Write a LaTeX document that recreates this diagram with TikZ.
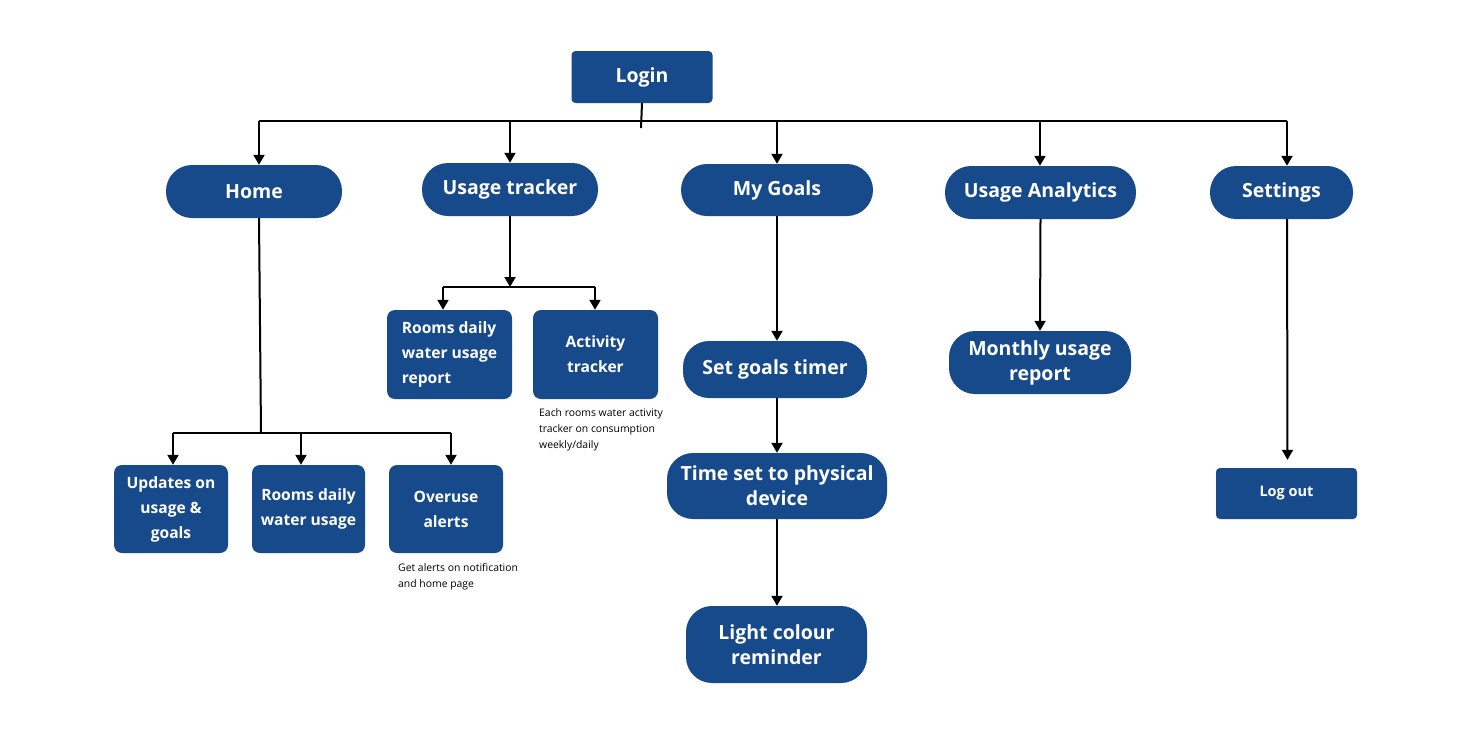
\documentclass[tikz,border=0pt]{standalone}
\usepackage{fontspec}
\setmainfont{Open Sans}
\usetikzlibrary{positioning}
\usetikzlibrary{arrows.meta}
\definecolor{navy}{HTML}{174A8B}

\begin{document}
\begin{tikzpicture}[x=1pt, y=-1pt,
        page/.style={fill=navy, text=white, align=center, inner sep=0pt,
            font=\bfseries\fontsize{19.5}{25}\selectfont},
        box/.style={page, rounded corners=4pt},
        pill/.style={page, rounded corners=26pt},
        card/.style={page, rounded corners=8pt, font=\bfseries\fontsize{15.6}{25}\selectfont},
        note/.style={anchor=north west, align=left, inner sep=0pt,
            font=\fontsize{10.4}{16}\selectfont},
        wire/.style={line width=2pt},
        link/.style={wire, -{Triangle[length=10pt, width=11pt]}}
    ]
        \useasboundingbox (0,0) rectangle (1471,734);

        % Top level
        \node[box, minimum width=141pt, minimum height=52pt] (login) at (642,77) {Login};

        \node[pill, minimum width=176pt, minimum height=53pt] (home) at (254,191.5) {Home};
        \node[pill, minimum width=176pt, minimum height=53pt] (usage) at (510,189.5) {Usage tracker};
        \node[pill, minimum width=192pt, minimum height=52pt] (goals) at (777,190) {My Goals};
        \node[pill, minimum width=191pt, minimum height=53pt] (analytics) at (1040.5,192.5) {Usage Analytics};
        \node[pill, minimum width=143pt, minimum height=53pt] (settings) at (1281.5,192.5) {Settings};

        % Bus under the login page
        \coordinate (jlogin) at (641,128);
        \coordinate (jhome) at (259,121);
        \coordinate (jusage) at (510,121);
        \coordinate (jgoals) at (777,121);
        \coordinate (janalytics) at (1040,121);
        \coordinate (jsettings) at (1287,121);

        \draw[wire] (login.south) -- (jlogin);
        \draw[wire] (jhome) -- (jsettings);
        \draw[link] (jhome) -- (jhome |- home.north);
        \draw[link] (jusage) -- (jusage |- usage.north);
        \draw[link] (jgoals) -- (jgoals |- goals.north);
        \draw[link] (janalytics) -- (janalytics |- analytics.north);
        \draw[link] (jsettings) -- (jsettings |- settings.north);

        % Home branch
        \node[card, minimum width=114pt, minimum height=88pt] (updates) at (171,509) {Updates on\\usage \&\\goals};
        \node[card, minimum width=113pt, minimum height=88pt] (roomsday) at (308.5,509) {Rooms daily\\water usage};
        \node[card, minimum width=114pt, minimum height=88pt] (overuse) at (446,509) {Overuse\\alerts};
        \node[note] (overnote) at (398,563) {Get alerts on notification\\and home page};

        \coordinate (jhomedown) at (261,433);
        \coordinate (jupdates) at (173,433);
        \coordinate (jroomsday) at (301,433);
        \coordinate (joveruse) at (451,433);
        \draw[wire] ([xshift=5pt]home.south) -- (jhomedown);
        \draw[wire] (jupdates) -- (joveruse);
        \draw[link] (jupdates) -- (jupdates |- updates.north);
        \draw[link] (jroomsday) -- (jroomsday |- roomsday.north);
        \draw[link] (joveruse) -- (joveruse |- overuse.north);

        % Usage tracker branch
        \node[card, minimum width=125pt, minimum height=89pt, align=left] (report) at (449.5,354.5) {Rooms daily\\water usage\\report};
        \node[card, minimum width=125pt, minimum height=89pt] (activity) at (595.5,354.5) {Activity\\tracker};
        \node[note] (actnote) at (539,408) {Each rooms water activity\\tracker on consumption\\weekly/daily};

        \coordinate (jusagedown) at (510,287);
        \coordinate (jreport) at (443,287);
        \coordinate (jactivity) at (595,287);
        \draw[link] (usage.south) -- (jusagedown);
        \draw[wire] (jreport) -- (jactivity);
        \draw[link] (jreport) -- (jreport |- report.north);
        \draw[link] (jactivity) -- (jactivity |- activity.north);

        % My Goals branch
        \node[pill, minimum width=184pt, minimum height=57pt] (timer) at (775,369.5) {Set goals timer};
        \node[pill, minimum width=220pt, minimum height=66pt] (device) at (777,486) {Time set to physical\\device};
        \node[pill, minimum width=181pt, minimum height=77pt] (light) at (776.5,644.5) {Light colour\\reminder};

        \draw[link] (goals.south) -- (goals.south |- timer.north);
        \draw[link] ([xshift=2pt]timer.south) -- (device.north);
        \draw[link] (device.south) -- (device.south |- light.north);

        % Usage Analytics branch
        \node[pill, minimum width=182pt, minimum height=63pt] (monthly) at (1040,362.5) {Monthly usage\\report};
        \draw[link] (analytics.south) -- (monthly.north);

        % Settings branch
        \node[box, minimum width=141pt, minimum height=51pt, font=\bfseries\fontsize{14.5}{20}\selectfont] (logout) at (1286.5,493.5) {Log out};
        \draw[link] ([xshift=5.5pt]settings.south) -- ([xshift=1pt,yshift=8pt]logout.north);
\end{tikzpicture}
\end{document}
